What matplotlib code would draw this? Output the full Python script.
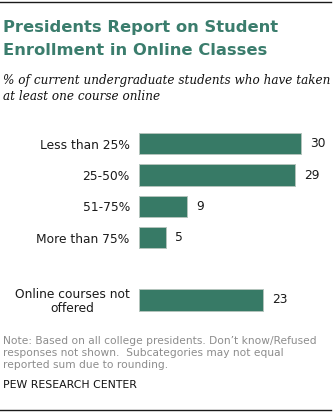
import matplotlib
matplotlib.use("Agg")
import matplotlib.pyplot as plt
from matplotlib.lines import Line2D

# ---- data ----
title = "Presidents Report on Student\nEnrollment in Online Classes"
subtitle = "% of current undergraduate students who have taken\nat least one course online"
categories = ["Less than 25%", "25-50%", "51-75%", "More than 75%",
              "Online courses not\noffered"]
values = [30, 29, 9, 5, 23]
note = ("Note: Based on all college presidents. Don\u2019t know/Refused\n"
        "responses not shown.  Subcategories may not equal\n"
        "reported sum due to rounding.")
source = "PEW RESEARCH CENTER"

# ---- layout helpers ----
W, H = 333, 412
DPI = 100
fig = plt.figure(figsize=(W / DPI, H / DPI), dpi=DPI)
fig.patch.set_facecolor("white")

def fy(px):
    return 1 - px / H

def fx(px):
    return px / W

TEAL = "#3b7d6d"
BAR = "#377a66"

# top / bottom rules
fig.add_artist(Line2D([0, fx(331)], [fy(1.5), fy(1.5)], color="#1a1a1a",
                      lw=1.0, transform=fig.transFigure))
fig.add_artist(Line2D([0, fx(331)], [fy(410), fy(410)], color="#1a1a1a",
                      lw=1.0, transform=fig.transFigure))

# title (baseline of last line)
fig.text(fx(3), fy(55.3), title, ha="left", va="baseline", color=TEAL,
         fontsize=11.8, fontweight="bold", family="DejaVu Sans",
         linespacing=1.66)
# subtitle
fig.text(fx(3), fy(100.2), subtitle, ha="left", va="baseline", color="#111111",
         fontsize=8.65, style="italic", family="DejaVu Serif", linespacing=1.36)

# ---- bars ----
positions = [0, 1, 2, 3, 5]
unit_px = 5.4
left_px = 138.5
ax_w_px = W - left_px
row_px = 31.2
top_px = 143.8 - 0.5 * row_px
bot_px = 300.0 + 0.5 * row_px
ax = fig.add_axes([fx(left_px), fy(bot_px), ax_w_px / W, (bot_px - top_px) / H])
ax.barh(positions, values, height=0.68, color=BAR, edgecolor="#b3c4bc",
        linewidth=0.7)
ax.set_xlim(0, ax_w_px / unit_px)
ax.set_ylim(5.5, -0.5)
for s in ax.spines.values():
    s.set_visible(False)
ax.set_xticks([])
ax.set_yticks(positions)
ax.set_yticklabels(categories, fontsize=8.8, color="#1a1a1a",
                   family="DejaVu Sans")
ax.tick_params(axis="y", length=0, pad=6.3)
for lab in ax.get_yticklabels():
    lab.set_multialignment("center")
    lab.set_linespacing(1.1)

for p, v in zip(positions, values):
    ax.annotate(str(v), xy=(v, p), xytext=(6.8, 0), textcoords="offset points",
                ha="left", va="center", fontsize=8.8, color="#1a1a1a",
                family="DejaVu Sans")

# note and source
fig.text(fx(3), fy(368.5), note, ha="left", va="baseline", color="#8c8c8c",
         fontsize=7.7, family="DejaVu Sans", linespacing=1.27)
fig.text(fx(3), fy(388.3), source, ha="left", va="baseline", color="#111111",
         fontsize=7.8, family="DejaVu Sans")

fig.savefig("out.png", dpi=DPI, facecolor="white")
